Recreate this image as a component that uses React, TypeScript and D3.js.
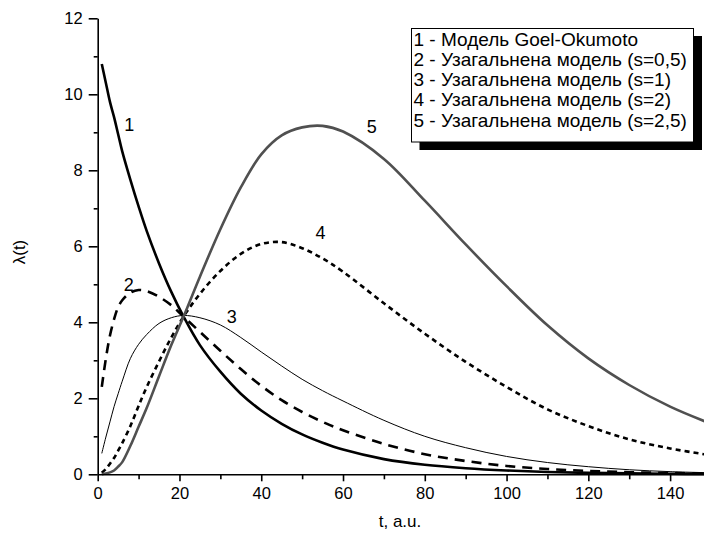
import React, { useEffect, useRef } from 'react';
import * as d3 from 'd3';

// t grid (a.u.) shared by all curves
const tValues = [1, 2, 3, 4, 5, 6, 8, 10, 12, 15, 18, 21, 25, 30, 35, 40, 45, 50, 55, 60, 70, 80, 90, 100, 110, 120, 130, 140, 150];

// 1 - Goel-Okumoto
const lambda1 = [10.8, 10.3, 9.8, 9.4, 8.95, 8.5, 7.75, 7.05, 6.4, 5.55, 4.8, 4.15, 3.4, 2.7, 2.12, 1.68, 1.33, 1.05, 0.83, 0.65, 0.4, 0.25, 0.16, 0.1, 0.06, 0.038, 0.024, 0.015, 0.009];
// 2 - s=0,5
const lambda2 = [2.3, 3.05, 3.65, 4.08, 4.4, 4.58, 4.78, 4.85, 4.82, 4.67, 4.45, 4.15, 3.75, 3.25, 2.77, 2.33, 1.95, 1.64, 1.38, 1.16, 0.8, 0.53, 0.35, 0.22, 0.14, 0.09, 0.055, 0.035, 0.02];
// 3 - s=1
const lambda3 = [0.55, 0.98, 1.38, 1.78, 2.12, 2.45, 3.05, 3.42, 3.68, 3.97, 4.12, 4.18, 4.12, 3.93, 3.6, 3.22, 2.85, 2.5, 2.2, 1.93, 1.42, 1.0, 0.7, 0.47, 0.31, 0.2, 0.12, 0.07, 0.04];
// 4 - s=2
const lambda4 = [0.04, 0.14, 0.28, 0.43, 0.62, 0.82, 1.27, 1.8, 2.3, 2.97, 3.6, 4.15, 4.75, 5.35, 5.8, 6.06, 6.11, 5.95, 5.68, 5.33, 4.5, 3.7, 2.96, 2.3, 1.71, 1.27, 0.92, 0.68, 0.5];
// 5 - s=2,5
const lambda5 = [0.0, 0.02, 0.05, 0.1, 0.2, 0.32, 0.75, 1.25, 1.75, 2.58, 3.4, 4.15, 5.2, 6.45, 7.55, 8.42, 8.92, 9.13, 9.17, 9.02, 8.3, 7.2, 6.05, 4.95, 3.92, 3.05, 2.35, 1.78, 1.33];

const legendLabels = [
  '1 - Модель Goel-Okumoto',
  '2 - Узагальнена модель (s=0,5)',
  '3 - Узагальнена модель (s=1)',
  '4 - Узагальнена модель (s=2)',
  '5 - Узагальнена модель (s=2,5)',
];

// curve number labels, placed in data coords
const curveTags = [
  { n: '1', t: 7.7, v: 9.2 },
  { n: '2', t: 7.6, v: 5.0 },
  { n: '3', t: 32.8, v: 4.15 },
  { n: '4', t: 54.5, v: 6.35 },
  { n: '5', t: 67, v: 9.15 },
];

const xMajor = [0, 20, 40, 60, 80, 100, 120, 140];
const xMinor = [10, 30, 50, 70, 90, 110, 130, 150];
const yMajor = [0, 2, 4, 6, 8, 10, 12];
const yMinor = [1, 3, 5, 7, 9, 11];

const FONT = '"Liberation Sans", Arial, sans-serif';

const App = () => {
  const svgRef = useRef(null);

  useEffect(() => {
    const svg = d3.select(svgRef.current);
    svg.selectAll('*').remove();

    const x = d3.scaleLinear().domain([0, 150]).range([97.7, 711]);
    const y = d3.scaleLinear().domain([0, 12]).range([474.3, 18.3]);

    const series = [
      { v: lambda1, stroke: '#000', width: 2.6, dash: null },
      { v: lambda2, stroke: '#000', width: 2.6, dash: '10,7' },
      { v: lambda3, stroke: '#000', width: 1, dash: null },
      { v: lambda4, stroke: '#000', width: 2.6, dash: '5,4' },
      { v: lambda5, stroke: '#505050', width: 2.6, dash: null },
    ];

    const line = d3.line()
      .x((d, i) => x(tValues[i]))
      .y(d => y(d))
      .curve(d3.curveCatmullRom.alpha(0.5));

    series.forEach(s => {
      svg.append('path')
        .datum(s.v)
        .attr('fill', 'none')
        .attr('stroke', s.stroke)
        .attr('stroke-width', s.width)
        .attr('stroke-dasharray', s.dash)
        .attr('d', line);
    });

    // x axis
    const gx = svg.append('g').attr('transform', `translate(0,${y(0)})`);
    gx.call(d3.axisBottom(x).tickValues(xMajor).tickSize(7).tickSizeOuter(0).tickPadding(6))
      .call(g => g.select('.domain').attr('stroke-width', 1.6))
      .call(g => g.selectAll('.tick line').attr('stroke-width', 1.6))
      .call(g => g.selectAll('.tick text').attr('font-size', 16.5).attr('font-family', FONT).attr('fill', '#000'));
    gx.append('g')
      .call(d3.axisBottom(x).tickValues(xMinor).tickSize(5).tickFormat(() => ''))
      .call(g => g.select('.domain').remove())
      .call(g => g.selectAll('.tick line').attr('stroke-width', 1.6));

    // y axis
    const gy = svg.append('g').attr('transform', `translate(${x(0)},0)`);
    gy.call(d3.axisLeft(y).tickValues(yMajor).tickSize(9).tickSizeOuter(0).tickPadding(6))
      .call(g => g.select('.domain').attr('stroke-width', 1.6))
      .call(g => g.selectAll('.tick line').attr('stroke-width', 1.6))
      .call(g => g.selectAll('.tick text').attr('font-size', 16.5).attr('font-family', FONT).attr('fill', '#000'));
    gy.append('g')
      .call(d3.axisLeft(y).tickValues(yMinor).tickSize(4).tickFormat(() => ''))
      .call(g => g.select('.domain').remove())
      .call(g => g.selectAll('.tick line').attr('stroke-width', 1.6));

    // axis titles
    svg.append('text')
      .attr('x', 400).attr('y', 527)
      .attr('text-anchor', 'middle')
      .attr('font-family', FONT).attr('font-size', 17)
      .text('t, a.u.');
    svg.append('text')
      .attr('transform', 'translate(25,252) rotate(-90)')
      .attr('text-anchor', 'middle')
      .attr('font-family', FONT).attr('font-size', 17)
      .text('λ(t)');

    // curve numbers
    svg.append('g').selectAll('text')
      .data(curveTags)
      .join('text')
      .attr('x', d => x(d.t))
      .attr('y', d => y(d.v))
      .attr('text-anchor', 'middle')
      .attr('dy', '0.35em')
      .attr('font-family', FONT).attr('font-size', 18)
      .text(d => d.n);

    // legend with drop shadow
    const lg = svg.append('g');
    lg.append('rect').attr('x', 419.5).attr('y', 36).attr('width', 282.5).attr('height', 114).attr('fill', '#000');
    lg.append('rect').attr('x', 411.5).attr('y', 28.5).attr('width', 282).attr('height', 113.5)
      .attr('fill', '#fff').attr('stroke', '#000').attr('stroke-width', 1);
    lg.selectAll('text.lab')
      .data(legendLabels)
      .join('text')
      .attr('class', 'lab')
      .attr('x', 413.5)
      .attr('y', (d, i) => 45.5 + i * 20.3)
      .attr('font-family', FONT).attr('font-size', 19)
      .text(d => d);
  }, []);

  return (
    <svg ref={svgRef} width={704} height={541}
      style={{ position: 'absolute', left: 0, top: 0, background: '#fff' }} />
  );
};

export default App;
